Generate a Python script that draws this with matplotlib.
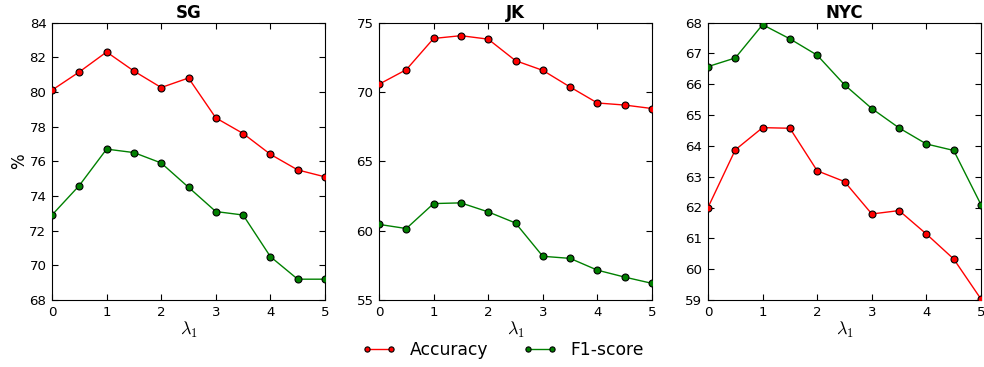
import matplotlib
matplotlib.use("Agg")
import matplotlib.pyplot as plt

lambdas = [0, 0.5, 1, 1.5, 2, 2.5, 3, 3.5, 4, 4.5, 5]

sg_acc = [80.1, 81.15, 82.3, 81.2, 80.25, 80.8, 78.5, 77.6, 76.4, 75.5, 75.1]
sg_f1 = [72.9, 74.6, 76.7, 76.5, 75.9, 74.5, 73.1, 72.9, 70.5, 69.2, 69.2]

jk_acc = [70.55, 71.6, 73.85, 74.05, 73.8, 72.25, 71.55, 70.35, 69.2, 69.05, 68.8]
jk_f1 = [60.45, 60.15, 61.95, 62.0, 61.35, 60.55, 58.15, 58.0, 57.15, 56.65, 56.2]

nyc_acc = [62.0, 63.87, 64.59, 64.57, 63.19, 62.84, 61.79, 61.9, 61.14, 60.33, 59.03]
nyc_f1 = [66.57, 66.85, 67.93, 67.47, 66.94, 65.98, 65.21, 64.58, 64.06, 63.85, 62.09]

titles = ["SG", "JK", "NYC"]
ylims = [(68, 84), (55, 75), (59, 68)]
yticks = [list(range(68, 85, 2)), [55, 60, 65, 70, 75], list(range(59, 69))]
xticks = [0, 1, 2, 3, 4, 5]

plt.rcParams["font.family"] = "DejaVu Sans"
plt.rcParams["mathtext.fontset"] = "cm"

fig = plt.figure(figsize=(9.84, 3.67), dpi=100)
lefts_px = [52, 379, 708]
width_px = 273
W, H = 984, 367
bottom = (H - 300) / H
height = 277.5 / H

datasets = [(sg_acc, sg_f1), (jk_acc, jk_f1), (nyc_acc, nyc_f1)]
handles = None
for i, (acc, f1) in enumerate(datasets):
    ax = fig.add_axes([lefts_px[i] / W, bottom, width_px / W, height])
    h1, = ax.plot(lambdas, acc, color="red", lw=1, marker="o", markersize=5,
                  markerfacecolor="red", markeredgecolor="black", markeredgewidth=0.8,
                  label="Accuracy", zorder=3)
    h2, = ax.plot(lambdas, f1, color="green", lw=1, marker="o", markersize=5,
                  markerfacecolor="green", markeredgecolor="black", markeredgewidth=0.8,
                  label="F1-score", zorder=3)
    handles = [h1, h2]
    ax.set_xlim(0, 5)
    ax.set_ylim(*ylims[i])
    ax.set_xticks(xticks)
    ax.set_yticks(yticks[i])
    ax.tick_params(direction="in", top=True, right=True, length=4, width=0.8,
                   labelsize=9.6, pad=4)
    ax.set_title(titles[i], fontsize=12, fontweight="bold", pad=3)
    ax.set_xlabel(r"$\lambda_1$", fontsize=13, labelpad=1)
    for s in ax.spines.values():
        s.set_linewidth(0.8)
    if i == 0:
        ax.set_ylabel("%", fontsize=12, labelpad=1)

fig.legend(handles, ["Accuracy", "F1-score"], loc="center", ncol=2,
           bbox_to_anchor=(503 / W, 1 - 350 / H), frameon=False, numpoints=2,
           fontsize=12.3, handlelength=2.0, columnspacing=2.0, markerscale=0.75)

fig.savefig("out.png", dpi=100)
